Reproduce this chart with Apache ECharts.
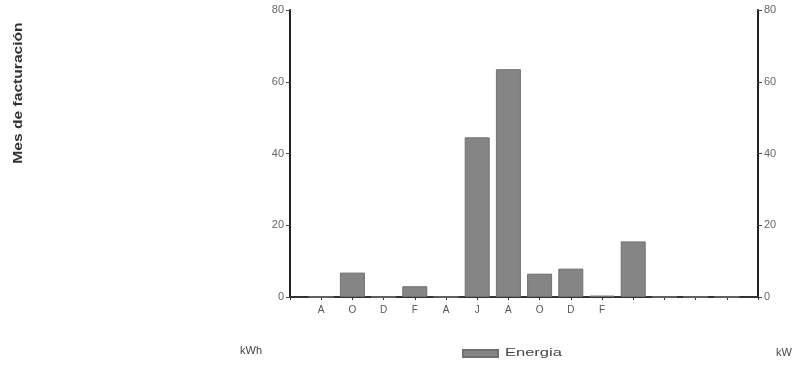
<!DOCTYPE html>
<html>
<head>
<meta charset="utf-8">
<script src="https://cdn.jsdelivr.net/npm/echarts@6/dist/echarts.min.js"></script>
<style>
html,body{margin:0;padding:0;background:#fff;}
#chart{width:801px;height:371px;}
</style>
</head>
<body>
<div id="chart"></div>
<script>
const categories = ['', 'A', 'O', 'D', 'F', 'A', 'J', 'A', 'O', 'D', 'F', '', '', '', '', ''];
const energia = ['-', 0, 6.8, 0, 3, 0, 44.5, 63.5, 6.5, 7.9, 0.4, 15.5, 0, 0, 0, '-'];
const yTicks = [0, 20, 40, 60, 80];
const titleText = 'Mes de facturación';
const leftUnit = 'kWh';
const rightUnit = 'kW';
const seriesName = 'Energia';

const chart = echarts.init(document.getElementById('chart'), null, {renderer: 'canvas'});
const font = 'Liberation Sans, Arial, sans-serif';
const yAxisBase = {
  type: 'value', min: yTicks[0], max: yTicks[yTicks.length - 1], interval: 20,
  axisLine: {show: true, lineStyle: {color: '#222', width: 2}},
  axisTick: {show: true, length: 4, lineStyle: {color: '#444'}},
  splitLine: {show: false},
  axisLabel: {color: '#666', fontSize: 11, fontFamily: font, margin: 6}
};
chart.setOption({
  animation: false,
  backgroundColor: '#fff',
  grid: {left: 290, right: 43, top: 10, bottom: 74, containLabel: false},
  legend: {
    data: [seriesName], left: 462, top: 349, padding: 0, itemWidth: 35, itemHeight: 7, itemGap: 0,
    icon: 'rect', formatter: function () { return ''; },
    textStyle: {color: '#444', fontSize: 11, fontFamily: font}
  },
  xAxis: {
    type: 'category', data: categories, boundaryGap: false,
    axisLine: {lineStyle: {color: '#333', width: 2}},
    axisTick: {show: true, length: 3, interval: 0, lineStyle: {color: '#333'}},
    axisLabel: {interval: 0, color: '#555', fontSize: 10, fontFamily: font, margin: 8}
  },
  yAxis: [
    Object.assign({}, yAxisBase, {position: 'left'}),
    Object.assign({}, yAxisBase, {position: 'right'})
  ],
  graphic: [
    {type: 'text', x: 18, y: 93, rotation: Math.PI / 2, scaleX: 1.2,
     style: {text: titleText, fill: '#333', align: 'center', verticalAlign: 'middle',
             font: 'bold 13px Liberation Sans, sans-serif'}},
    {type: 'text', x: 505, y: 353, scaleX: 1.5,
     style: {text: seriesName, fill: '#444', align: 'left', verticalAlign: 'middle', font: '11px Liberation Sans, sans-serif'}},
    {type: 'text', left: 240, top: 345, style: {text: leftUnit, fill: '#444', font: '11px Liberation Sans, sans-serif'}},
    {type: 'text', left: 776, top: 347, style: {text: rightUnit, fill: '#444', font: '11px Liberation Sans, sans-serif'}}
  ],
  series: [{
    name: seriesName, type: 'bar', data: energia, barWidth: 25, yAxisIndex: 0,
    itemStyle: {color: '#858585', borderColor: '#707070', borderWidth: 1}
  }]
});
</script>
</body>
</html>
